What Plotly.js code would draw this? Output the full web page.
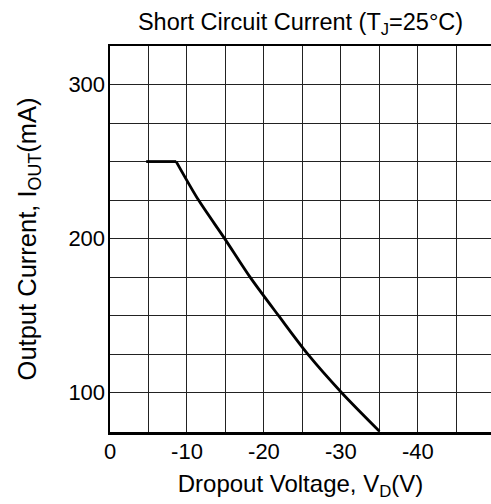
<!DOCTYPE html>
<html>
<head>
<meta charset="utf-8">
<script src="https://cdn.plot.ly/plotly-3.0.1.min.js"></script>
<style>html,body{margin:0;padding:0;background:#fff;}</style>
</head>
<body>
<div id="chart" style="width:491px;height:504px;"></div>
<script>
// Dropout voltage (V) and output current (mA)
const dropoutVoltage = [-4.7, -8.6, -11.5, -14.9, -18.2, -21.9, -25.7, -30.1, -35.0];
const outputCurrent  = [250, 250, 225, 200, 175, 150, 125, 100, 75];
const xTickVals = [0, -10, -20, -30, -40];
const xTickText = ['0', '-10', '-20', '-30', '-40'];
const yTickVals = [100, 200, 300];
const yTickText = ['100', '200', '300'];

const font = 'Liberation Sans, Arial, sans-serif';

// flat current-limit segment, then the fold-back curve
const flatTrace = {
  x: dropoutVoltage.slice(0, 2),
  y: outputCurrent.slice(0, 2),
  type: 'scatter', mode: 'lines',
  line: {color: '#000', width: 2.8},
  hoverinfo: 'skip'
};
const curveTrace = {
  x: dropoutVoltage.slice(1),
  y: outputCurrent.slice(1),
  type: 'scatter', mode: 'lines',
  line: {color: '#000', width: 2.8, shape: 'spline', smoothing: 0.8},
  hoverinfo: 'skip'
};

const layout = {
  width: 491, height: 504,
  margin: {l: 110, r: 0, t: 46, b: 72, pad: 0},
  paper_bgcolor: '#fff', plot_bgcolor: '#fff',
  showlegend: false,
  font: {family: font, color: '#000', size: 22},
  title: {
    text: 'Short Circuit Current (T<sub>J</sub>=25°C)',
    font: {family: font, size: 23.5, color: '#000'},
    x: 0.5, xref: 'paper', xanchor: 'center',
    y: 0.957, yref: 'container', yanchor: 'middle'
  },
  xaxis: {
    range: [0, -49.5],
    tickmode: 'array', tickvals: xTickVals, ticktext: xTickText,
    ticks: '', ticklabelstandoff: -2,
    tickfont: {family: font, size: 22, color: '#000'},
    showgrid: true, gridcolor: '#222', gridwidth: 1,
    minor: {dtick: 5, tick0: 0, showgrid: true, gridcolor: '#222', gridwidth: 1},
    showline: true, linecolor: '#000', linewidth: 2.5, mirror: true,
    zeroline: false,
    title: {text: 'Dropout Voltage, V<sub>D</sub>(V)', font: {family: font, size: 24, color: '#000'}, standoff: 13}
  },
  yaxis: {
    range: [74.5, 325],
    tickmode: 'array', tickvals: yTickVals, ticktext: yTickText,
    ticks: '', ticklabelstandoff: -2,
    tickfont: {family: font, size: 22, color: '#000'},
    showgrid: true, gridcolor: '#222', gridwidth: 1,
    minor: {dtick: 25, tick0: 0, showgrid: true, gridcolor: '#222', gridwidth: 1},
    showline: true, linecolor: '#000', linewidth: 2.5, mirror: true,
    zeroline: false,
    title: {text: 'Output Current, I<sub>OUT</sub>(mA)', font: {family: font, size: 25.5, color: '#000'}, standoff: 25}
  }
};

Plotly.newPlot('chart', [flatTrace, curveTrace], layout, {staticPlot: true, displayModeBar: false});
</script>
</body>
</html>
